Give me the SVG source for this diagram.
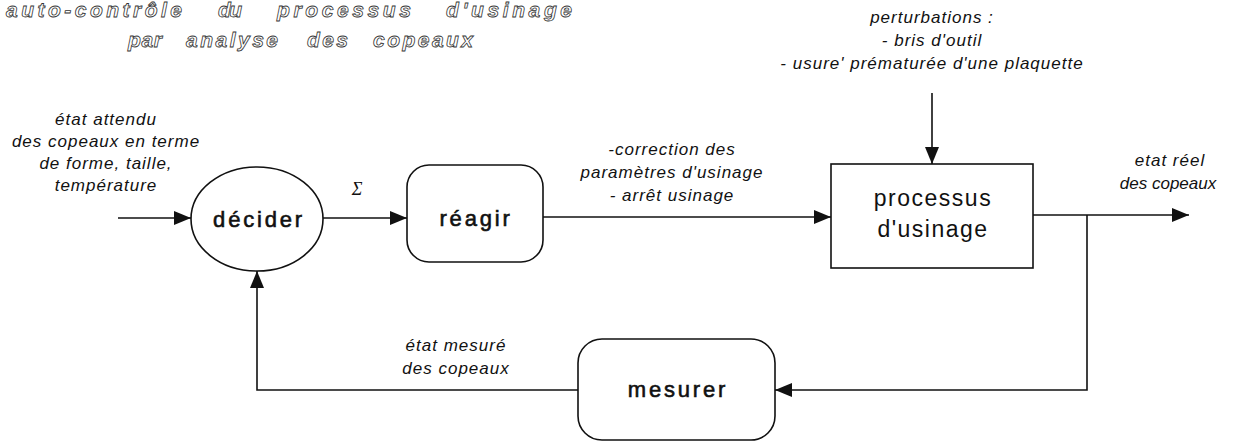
<svg xmlns="http://www.w3.org/2000/svg" width="1235" height="441" viewBox="0 0 1235 441">
  <style>
    .title { font-family: "Liberation Sans", Arial, sans-serif; font-size: 21px; font-weight: bold; font-style: italic; fill: #fff; stroke: #333; stroke-width: 0.8; }
    .lbl { font-family: "Liberation Sans", Arial, sans-serif; font-size: 17px; font-style: italic; fill: #111; letter-spacing: 1px; text-anchor: middle; }
    .node-txt { font-family: "Liberation Sans", Arial, sans-serif; font-size: 22px; fill: #111; stroke: #111; stroke-width: 0.6; letter-spacing: 2.8px; text-anchor: middle; }
    .proc-txt { font-family: "Liberation Sans", Arial, sans-serif; font-size: 23px; fill: #111; letter-spacing: 1.5px; text-anchor: middle; }
    .shape { fill: #fff; stroke: #111; stroke-width: 1.6; }
    .wire { fill: none; stroke: #111; stroke-width: 1.6; }
  </style>
  <defs>
    <marker id="arrow" markerUnits="userSpaceOnUse" markerWidth="18" markerHeight="14" refX="17" refY="7" orient="auto">
      <path d="M0,0 L17,7 L0,14 Z" fill="#111"/>
    </marker>
  </defs>
  <rect width="1235" height="441" fill="#fff"/>

  <!-- title, hollow lettering -->
  <g id="title">
    <text class="title" x="6" y="17" textLength="176" lengthAdjust="spacing">auto-contrôle</text>
    <text class="title" x="218" y="17" textLength="24" lengthAdjust="spacing">du</text>
    <text class="title" x="277" y="17" textLength="134" lengthAdjust="spacing">processus</text>
    <text class="title" x="446" y="17" textLength="126" lengthAdjust="spacing">d'usinage</text>
    <text class="title" x="128" y="47" textLength="34" lengthAdjust="spacing">par</text>
    <text class="title" x="186" y="47" textLength="92" lengthAdjust="spacing">analyse</text>
    <text class="title" x="307" y="47" textLength="41" lengthAdjust="spacing">des</text>
    <text class="title" x="373" y="47" textLength="100" lengthAdjust="spacing">copeaux</text>
  </g>

  <!-- connectors -->
  <g id="connectors">
    <line class="wire" x1="118" y1="218" x2="191" y2="218" marker-end="url(#arrow)"/>
    <line class="wire" x1="323" y1="218" x2="407" y2="218" marker-end="url(#arrow)"/>
    <line class="wire" x1="543" y1="217" x2="831" y2="217" marker-end="url(#arrow)"/>
    <line class="wire" x1="932" y1="93" x2="932" y2="164" marker-end="url(#arrow)"/>
    <line class="wire" x1="1033" y1="215" x2="1189" y2="215" marker-end="url(#arrow)"/>
    <polyline class="wire" points="1087,215 1087,390 775,390" marker-end="url(#arrow)"/>
    <polyline class="wire" points="578,390 257,390 257,271" marker-end="url(#arrow)"/>
  </g>

  <!-- edge labels -->
  <g id="labels">
    <text class="lbl" x="106" y="125">état attendu</text>
    <text class="lbl" x="106" y="147">des copeaux en terme</text>
    <text class="lbl" x="106" y="169">de  forme, taille,</text>
    <text class="lbl" x="106" y="191">température</text>
    <text x="357" y="195" font-family="Liberation Serif, serif" font-size="18" font-style="italic" fill="#111" text-anchor="middle">Σ</text>
    <text class="lbl" x="672" y="155">-correction des</text>
    <text class="lbl" x="672" y="178">paramètres d'usinage</text>
    <text class="lbl" x="672" y="201">- arrêt usinage</text>
    <text class="lbl" x="932" y="23">perturbations :</text>
    <text class="lbl" x="932" y="46">- bris  d'outil</text>
    <text class="lbl" x="932" y="69">- usure' prématurée d'une plaquette</text>
    <text class="lbl" x="1170" y="166">etat réel</text>
    <text class="lbl" x="1168" y="189" style="letter-spacing:0">des copeaux</text>
    <text class="lbl" x="456" y="351">état mesuré</text>
    <text class="lbl" x="456" y="374">des copeaux</text>
  </g>

  <!-- nodes -->
  <g id="decider">
    <ellipse class="shape" cx="257" cy="219" rx="66" ry="52"/>
    <text class="node-txt" x="259" y="227">décider</text>
  </g>
  <g id="reagir">
    <rect class="shape" x="407" y="165" width="136" height="97" rx="22" ry="22"/>
    <text class="node-txt" x="476" y="226">réagir</text>
  </g>
  <g id="processus">
    <rect class="shape" x="831" y="164" width="202" height="104"/>
    <text class="proc-txt" x="933" y="206">processus</text>
    <text class="proc-txt" x="933" y="237">d'usinage</text>
  </g>
  <g id="mesurer">
    <rect class="shape" x="578" y="339" width="197" height="101" rx="24" ry="24"/>
    <text class="node-txt" x="678" y="397">mesurer</text>
  </g>
</svg>
